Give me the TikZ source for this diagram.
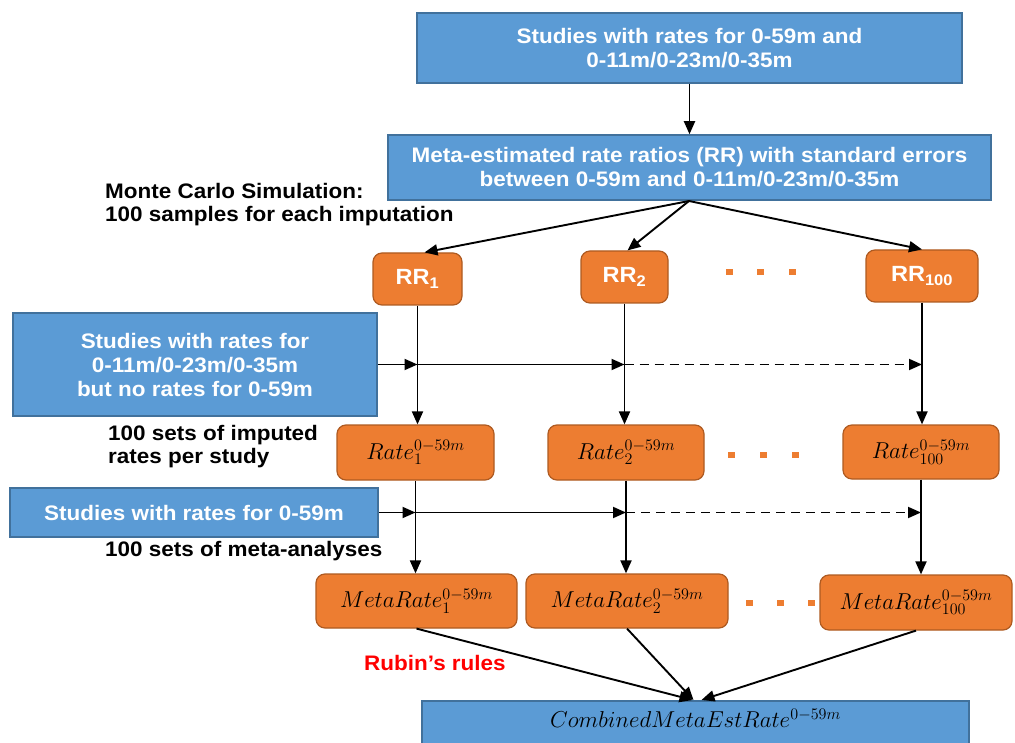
\RequirePackage{fix-cm}
\documentclass[tikz,border=0pt]{standalone}
\usepackage[no-math]{fontspec}
\setmainfont{Liberation Sans}[FakeStretch=1.07]
\usetikzlibrary{arrows.meta}
\definecolor{blueF}{HTML}{5B9BD5}
\definecolor{blueD}{HTML}{41719C}
\definecolor{orangeF}{HTML}{ED7D31}
\definecolor{orangeD}{HTML}{AE5A21}
\tikzset{
  bluebox/.style={draw=blueD, line width=1.5pt, fill=blueF, text=white,
    font=\bfseries\fontsize{21}{24}\selectfont, align=center, inner sep=0pt},
  orangebox/.style={draw=orangeD, line width=1.2pt, fill=orangeF, rounded corners=9pt,
    inner sep=0pt, font=\fontsize{23}{27}\selectfont},
  mathtext/.style={inner sep=0pt, font=\fontsize{23}{27}\selectfont},
  rrtext/.style={text=white, font=\bfseries\fontsize{22}{24}\selectfont},
  arr/.style={line width=1.9pt, -{Triangle[length=13pt,width=11pt]}},
  dasharr/.style={arr, dash pattern=on 9pt off 6pt},
  lbl/.style={font=\bfseries\fontsize{21}{23}\selectfont, align=left, inner sep=0pt, anchor=west},
  dotsq/.style={fill=orangeF}
}
\begin{document}
\begin{tikzpicture}[x=1pt,y=-1pt]
\useasboundingbox (0,0) rectangle (1015,743);
\clip (0,0) rectangle (1015,743);
% blue boxes
\node[bluebox, minimum width=545pt, minimum height=70pt] (top) at (689.5,48) {Studies with rates for 0-59m and\\0-11m/0-23m/0-35m};
\node[bluebox, minimum width=603pt, minimum height=65pt] (meta) at (689.5,167.5) {Meta-estimated rate ratios (RR) with standard errors\\between 0-59m and 0-11m/0-23m/0-35m};
\node[bluebox, minimum width=364pt, minimum height=103pt] (nob) at (195,364.5) {Studies with rates for\\0-11m/0-23m/0-35m\\but no rates for 0-59m};
\node[bluebox, minimum width=368pt, minimum height=49pt] (with) at (194,512.5) {Studies with rates for 0-59m};
\node[bluebox, minimum width=547pt, minimum height=60pt, anchor=north] (comb) at (695.5,700) {};
\node[mathtext] (combtext) at (695.5,718) {$CombinedMetaEstRate^{0-59m}$};
% labels
\node[lbl] (mc) at (105,205) {Monte Carlo Simulation:\\100 samples for each imputation};
\node[lbl] (imp) at (108,446.5) {100 sets of imputed\\rates per study};
\node[lbl] (ma) at (105,551) {100 sets of meta-analyses};
\node[lbl, text=red] (rubin) at (364,663) {Rubin’s rules};
% orange boxes
\node[orangebox, minimum width=89pt, minimum height=52pt] (rr1) at (417.5,279) {};
\node[rrtext] at (rr1) {RR\textsubscript{1}};
\node[orangebox, minimum width=87pt, minimum height=52pt] (rr2) at (624.5,277) {};
\node[rrtext] at (rr2) {RR\textsubscript{2}};
\node[orangebox, minimum width=112pt, minimum height=52pt] (rr100) at (922,276) {};
\node[rrtext] at (rr100) {RR\textsubscript{100}};
\node[orangebox, minimum width=157pt, minimum height=55pt] (rate1) at (415.5,452.5) {$Rate_1^{0-59m}$};
\node[orangebox, minimum width=156pt, minimum height=55pt] (rate2) at (626,452.5) {$Rate_2^{0-59m}$};
\node[orangebox, minimum width=156pt, minimum height=54pt] (rate100) at (921,452) {$Rate_{100}^{0-59m}$};
\node[orangebox, minimum width=201pt, minimum height=54pt] (mr1) at (416.5,601) {$MetaRate_1^{0-59m}$};
\node[orangebox, minimum width=202pt, minimum height=54pt] (mr2) at (627,601) {$MetaRate_2^{0-59m}$};
\node[orangebox, minimum width=192pt, minimum height=55pt] (mr100) at (916,602.5) {$MetaRate_{100}^{0-59m}$};
% dots
\foreach \x in {729,760,792} \fill[dotsq] (\x-3.5,269) rectangle (\x+3.5,275);
\foreach \x in {731,763,795} \fill[dotsq] (\x-3.5,452) rectangle (\x+3.5,458);
\foreach \x in {749,780,811} \fill[dotsq] (\x-3.5,600) rectangle (\x+3.5,606);
% connectors
\draw[arr] (top) -- (meta);
\coordinate (split) at (689,201);
\draw[arr] (split) -- ([xshift=7pt]rr1.north);
\draw[arr] (split) -- ([xshift=3pt]rr2.north);
\draw[arr] (split) -- (rr100.north);
\draw[arr] (rr1.south) -- (rr1.south |- rate1.north);
\draw[arr] (rr2.south) -- (rr2.south |- rate2.north);
\draw[arr] (rr100.south) -- (rr100.south |- rate100.north);
\coordinate (h1) at (rr1.south |- nob.east);
\coordinate (h2) at (rr2.south |- nob.east);
\coordinate (h3) at (rr100.south |- nob.east);
\draw[arr] (nob.east) -- (h1);
\draw[arr] (h1) -- (h2);
\draw[dasharr] (h2) -- (h3);
\draw[arr] (rate1.south) -- (rate1.south |- mr1.north);
\draw[arr] (rate2.south) -- (rate2.south |- mr2.north);
\draw[arr] (rate100.south) -- (rate100.south |- mr100.north);
\coordinate (g1) at (rate1.south |- with.east);
\coordinate (g2) at (rate2.south |- with.east);
\coordinate (g3) at (rate100.south |- with.east);
\draw[arr] (with.east) -- (g1);
\draw[arr] (g1) -- (g2);
\draw[dasharr] (g2) -- (g3);
\draw[arr] (mr1.south) -- ([xshift=-3pt]comb.north);
\draw[arr] (mr2.south) -- ([xshift=-2pt]comb.north);
\draw[arr] (mr100.south) -- ([xshift=6pt]comb.north);
\end{tikzpicture}
\end{document}
